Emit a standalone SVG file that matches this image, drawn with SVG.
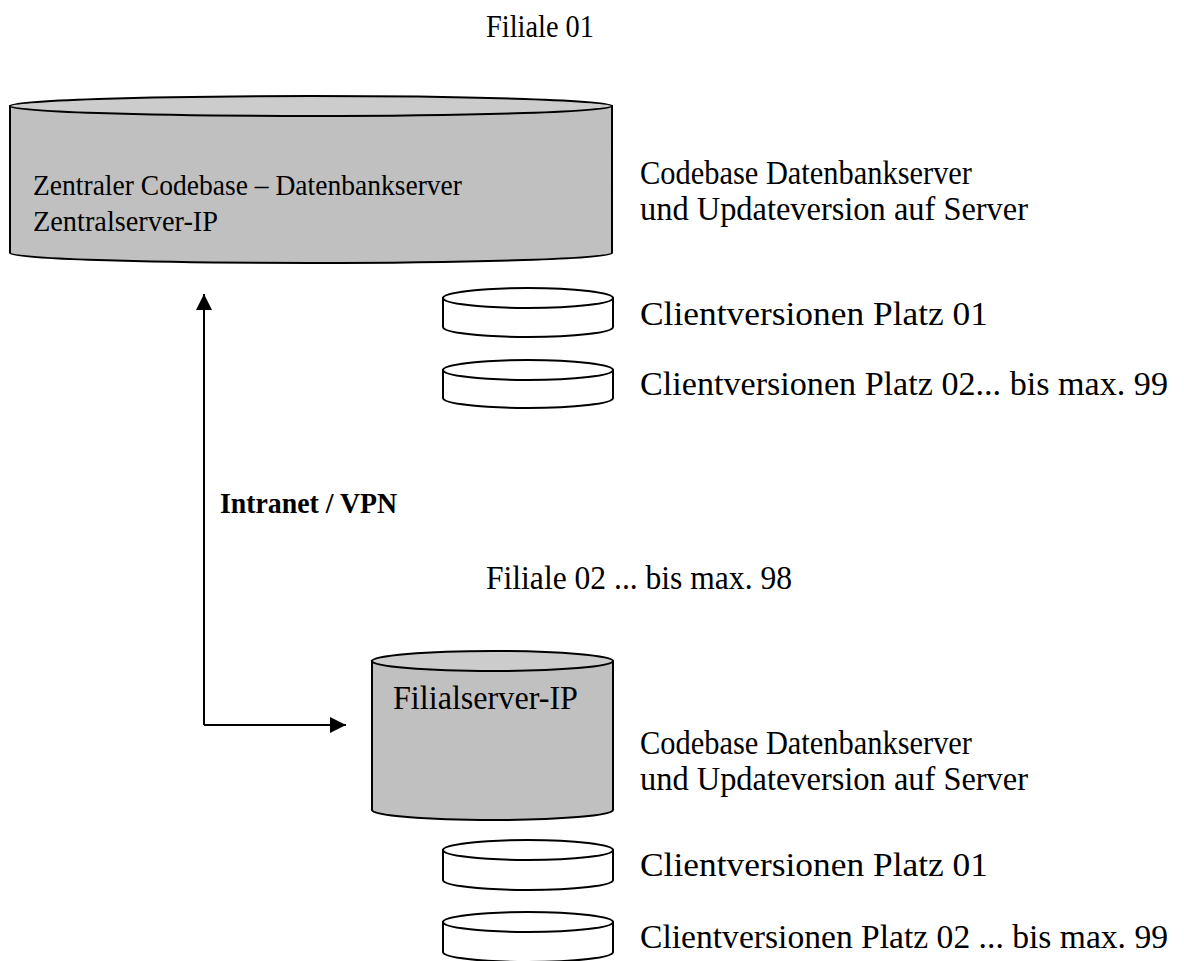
<svg xmlns="http://www.w3.org/2000/svg" width="1184" height="961" viewBox="0 0 1184 961">
<style>
text{font-family:"Liberation Serif","Times New Roman",serif;font-size:29px;fill:#000}
.r{font-size:33px}
.f{font-size:31px}
.b{font-weight:bold}
.body{fill:#c0c0c0;stroke:#000;stroke-width:2}
.top{fill:#cccccc;stroke:#000;stroke-width:2}
.wbody{fill:#fff;stroke:#000;stroke-width:2}
.line{fill:none;stroke:#000;stroke-width:2}
</style>
<defs>
<marker id="ah" viewBox="0 0 10 10" refX="10" refY="5" markerWidth="16" markerHeight="16" markerUnits="userSpaceOnUse" orient="auto">
<path d="M0,0 L10,5 L0,10 z" fill="#000"/>
</marker>
</defs>
<text class="f" x="486" y="37" textLength="108" lengthAdjust="spacingAndGlyphs">Filiale 01</text>
<g id="central">
<path class="body" d="M10,106 L10,253 A301,10 0 0 0 612,253 L612,106 Z"/>
<ellipse class="top" cx="311" cy="106" rx="301" ry="10"/>
<text x="33" y="195" textLength="429" lengthAdjust="spacingAndGlyphs">Zentraler Codebase – Datenbankserver</text>
<text x="33" y="231" textLength="185" lengthAdjust="spacingAndGlyphs">Zentralserver-IP</text>
</g>
<text class="r" x="640" y="184" textLength="332" lengthAdjust="spacingAndGlyphs">Codebase Datenbankserver</text>
<text class="r" x="640" y="220" textLength="388" lengthAdjust="spacingAndGlyphs">und Updateversion auf Server</text>
<g id="client1a">
<path class="wbody" d="M443,298 L443,327 A85,10 0 0 0 613,327 L613,298 Z"/>
<ellipse class="wbody" cx="528" cy="298" rx="85" ry="10"/>
</g>
<text class="r" x="640" y="325" textLength="348" lengthAdjust="spacingAndGlyphs">Clientversionen Platz 01</text>
<g id="client1b">
<path class="wbody" d="M443,370 L443,398 A85,10 0 0 0 613,398 L613,370 Z"/>
<ellipse class="wbody" cx="528" cy="370" rx="85" ry="10"/>
</g>
<text class="r" x="640" y="395" textLength="528" lengthAdjust="spacingAndGlyphs">Clientversionen Platz 02... bis max. 99</text>
<text class="b" x="220" y="513" textLength="177" lengthAdjust="spacingAndGlyphs">Intranet / VPN</text>
<text class="r" x="486" y="589" textLength="306" lengthAdjust="spacingAndGlyphs">Filiale 02 ... bis max. 98</text>
<g id="filiale">
<path class="body" d="M372,661 L372,810 A120.5,10 0 0 0 613,810 L613,661 Z"/>
<ellipse class="top" cx="492.5" cy="661" rx="120.5" ry="10"/>
<text class="r" x="393" y="709" textLength="185" lengthAdjust="spacingAndGlyphs">Filialserver-IP</text>
</g>
<text class="r" x="640" y="754" textLength="332" lengthAdjust="spacingAndGlyphs">Codebase Datenbankserver</text>
<text class="r" x="640" y="790" textLength="388" lengthAdjust="spacingAndGlyphs">und Updateversion auf Server</text>
<g id="client2a">
<path class="wbody" d="M443,850 L443,880 A85,10 0 0 0 613,880 L613,850 Z"/>
<ellipse class="wbody" cx="528" cy="850" rx="85" ry="10"/>
</g>
<text class="r" x="640" y="876" textLength="348" lengthAdjust="spacingAndGlyphs">Clientversionen Platz 01</text>
<g id="client2b">
<path class="wbody" d="M443,922 L443,952 A85,10 0 0 0 613,952 L613,922 Z"/>
<ellipse class="wbody" cx="528" cy="922" rx="85" ry="10"/>
</g>
<text class="r" x="640" y="948" textLength="528" lengthAdjust="spacingAndGlyphs">Clientversionen Platz 02 ... bis max. 99</text>
<g id="connectors">
<path class="line" d="M204,725 L204,294" marker-end="url(#ah)"/>
<path class="line" d="M204,725 L346,725" marker-end="url(#ah)"/>
</g>
</svg>
